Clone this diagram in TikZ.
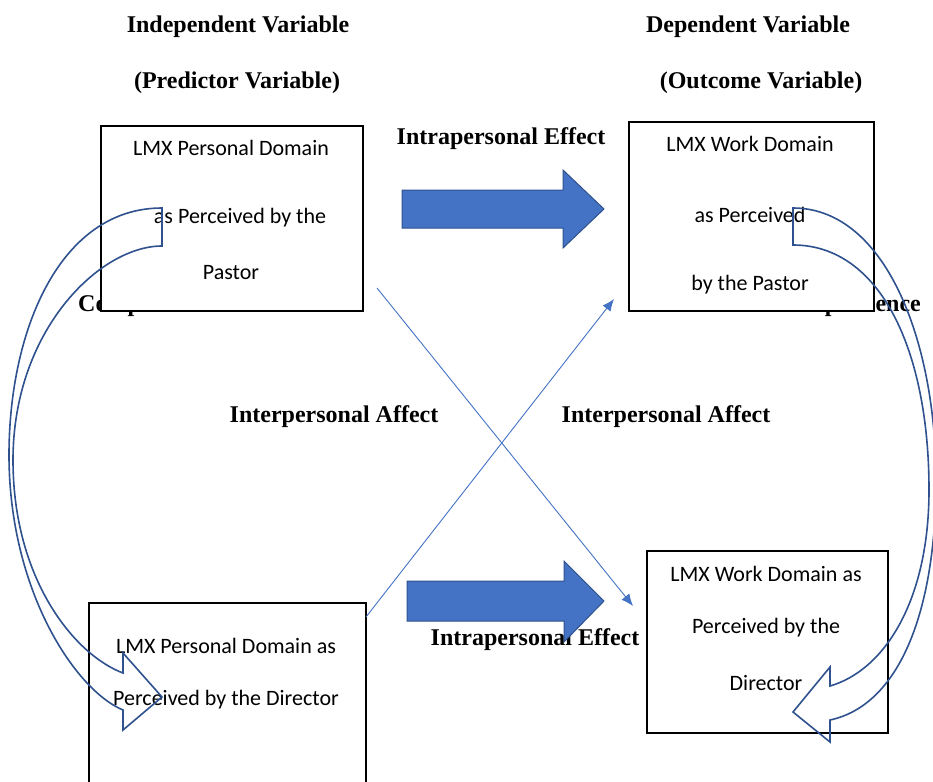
\documentclass[tikz,border=0pt]{standalone}
\usepackage{fontspec}
\setmainfont{Liberation Serif}
\newfontfamily\boxfont{Carlito}
\usetikzlibrary{arrows.meta}
\definecolor{wdblue}{HTML}{4472C4}
\definecolor{wdedge}{HTML}{2F528F}
\begin{document}
\begin{tikzpicture}[x=1pt,y=-1pt,>={Latex[length=12pt,width=10pt]},
  head/.style={font=\fontsize{24}{28}\selectfont\bfseries,inner sep=0pt},
  box/.style={draw=black,line width=2pt,fill=white,anchor=north west,inner sep=0pt},
  boxtext/.style={font=\boxfont\fontsize{22}{26}\selectfont,inner sep=0pt},
  fat/.style={fill=wdblue,draw=wdedge,line width=1pt},
  curl/.style={draw=wdedge,line width=1.6pt},
  link/.style={draw=wdblue,line width=.9pt}]
  \useasboundingbox (0,0) rectangle (933,781);
  % headings
  \node[head] (iv) at (238,27) {Independent Variable};
  \node[head] (pv) at (237,83) {(Predictor Variable)};
  \node[head] (dv) at (748,27) {Dependent Variable};
  \node[head] (ov) at (761,83) {(Outcome Variable)};
  % labels that the boxes partly hide
  \node[head,anchor=base west] (lcap) at (78,311) {Compassion};
  \node[head,anchor=base east] (rcap) at (921,311) {Interdependence};
  \node[head] (intra1) at (501,139) {Intrapersonal Effect};
  \node[head] (intra2) at (535,640) {Intrapersonal Effect};
  \node[head] (inter1) at (334,417) {Interpersonal Affect};
  \node[head] (inter2) at (666,417) {Interpersonal Affect};
  % boxes
  \node[box,minimum width=262,minimum height=185] (pp) at (100,125) {};
  \node[box,minimum width=245,minimum height=189] (pw) at (628,121) {};
  \node[box,minimum width=277,minimum height=200] (dp) at (88,602) {};
  \node[box,minimum width=241,minimum height=182] (dw) at (646,550) {};
  \node[boxtext] (pp1) at (231,148) {LMX Personal Domain};
  \node[boxtext] (pp2) at (240,218) {as Perceived by the};
  \node[boxtext] (pp3) at (231,273) {Pastor};
  \node[boxtext] (pw1) at (750,144) {LMX Work Domain};
  \node[boxtext] (pw2) at (750,215) {as Perceived};
  \node[boxtext] (pw3) at (750,285) {by the Pastor};
  \node[boxtext] (dp1) at (226,646) {LMX Personal Domain as};
  \node[boxtext] (dp2) at (226,700) {Perceived by the Director};
  \node[boxtext] (dw1) at (766,574) {LMX Work Domain as};
  \node[boxtext] (dw2) at (766,628) {Perceived by the};
  \node[boxtext] (dw3) at (766,683) {Director};
  % crossing links
  \coordinate (ppout) at (377,288);
  \coordinate (dwin) at (633,606);
  \coordinate (dpout) at (366,617);
  \coordinate (pwin) at (614,299);
  \draw[link,->] (ppout) -- (dwin);
  \draw[link,->] (dpout) -- (pwin);
  % block arrows
  \draw[fat] (402,190) -- (563,190) -- (563,170) -- (604,209) -- (563,248)
    -- (563,228) -- (402,228) -- cycle;
  \draw[fat] (407,581) -- (564,581) -- (564,561) -- (604,601) -- (564,642)
    -- (564,621) -- (407,621) -- cycle;
  % curved arrows
  \draw[curl] (162,208) .. controls (60,208) and (9,330) .. (9,455)
    .. controls (9,590) and (75,690) .. (123,710) -- (123,730) -- (162,697)
    -- (123,653) -- (123,673) .. controls (75,655) and (13,580) .. (13,460)
    .. controls (13,330) and (100,246) .. (162,246) -- cycle;
  \draw[curl] (793,208) .. controls (885,208) and (936,340) .. (936,480)
    .. controls (936,610) and (900,705) .. (830,720) -- (830,742) -- (793,712)
    -- (830,667) -- (830,686) .. controls (885,670) and (929,600) .. (929,490)
    .. controls (929,350) and (880,245) .. (793,245) -- cycle;
\end{tikzpicture}
\end{document}
